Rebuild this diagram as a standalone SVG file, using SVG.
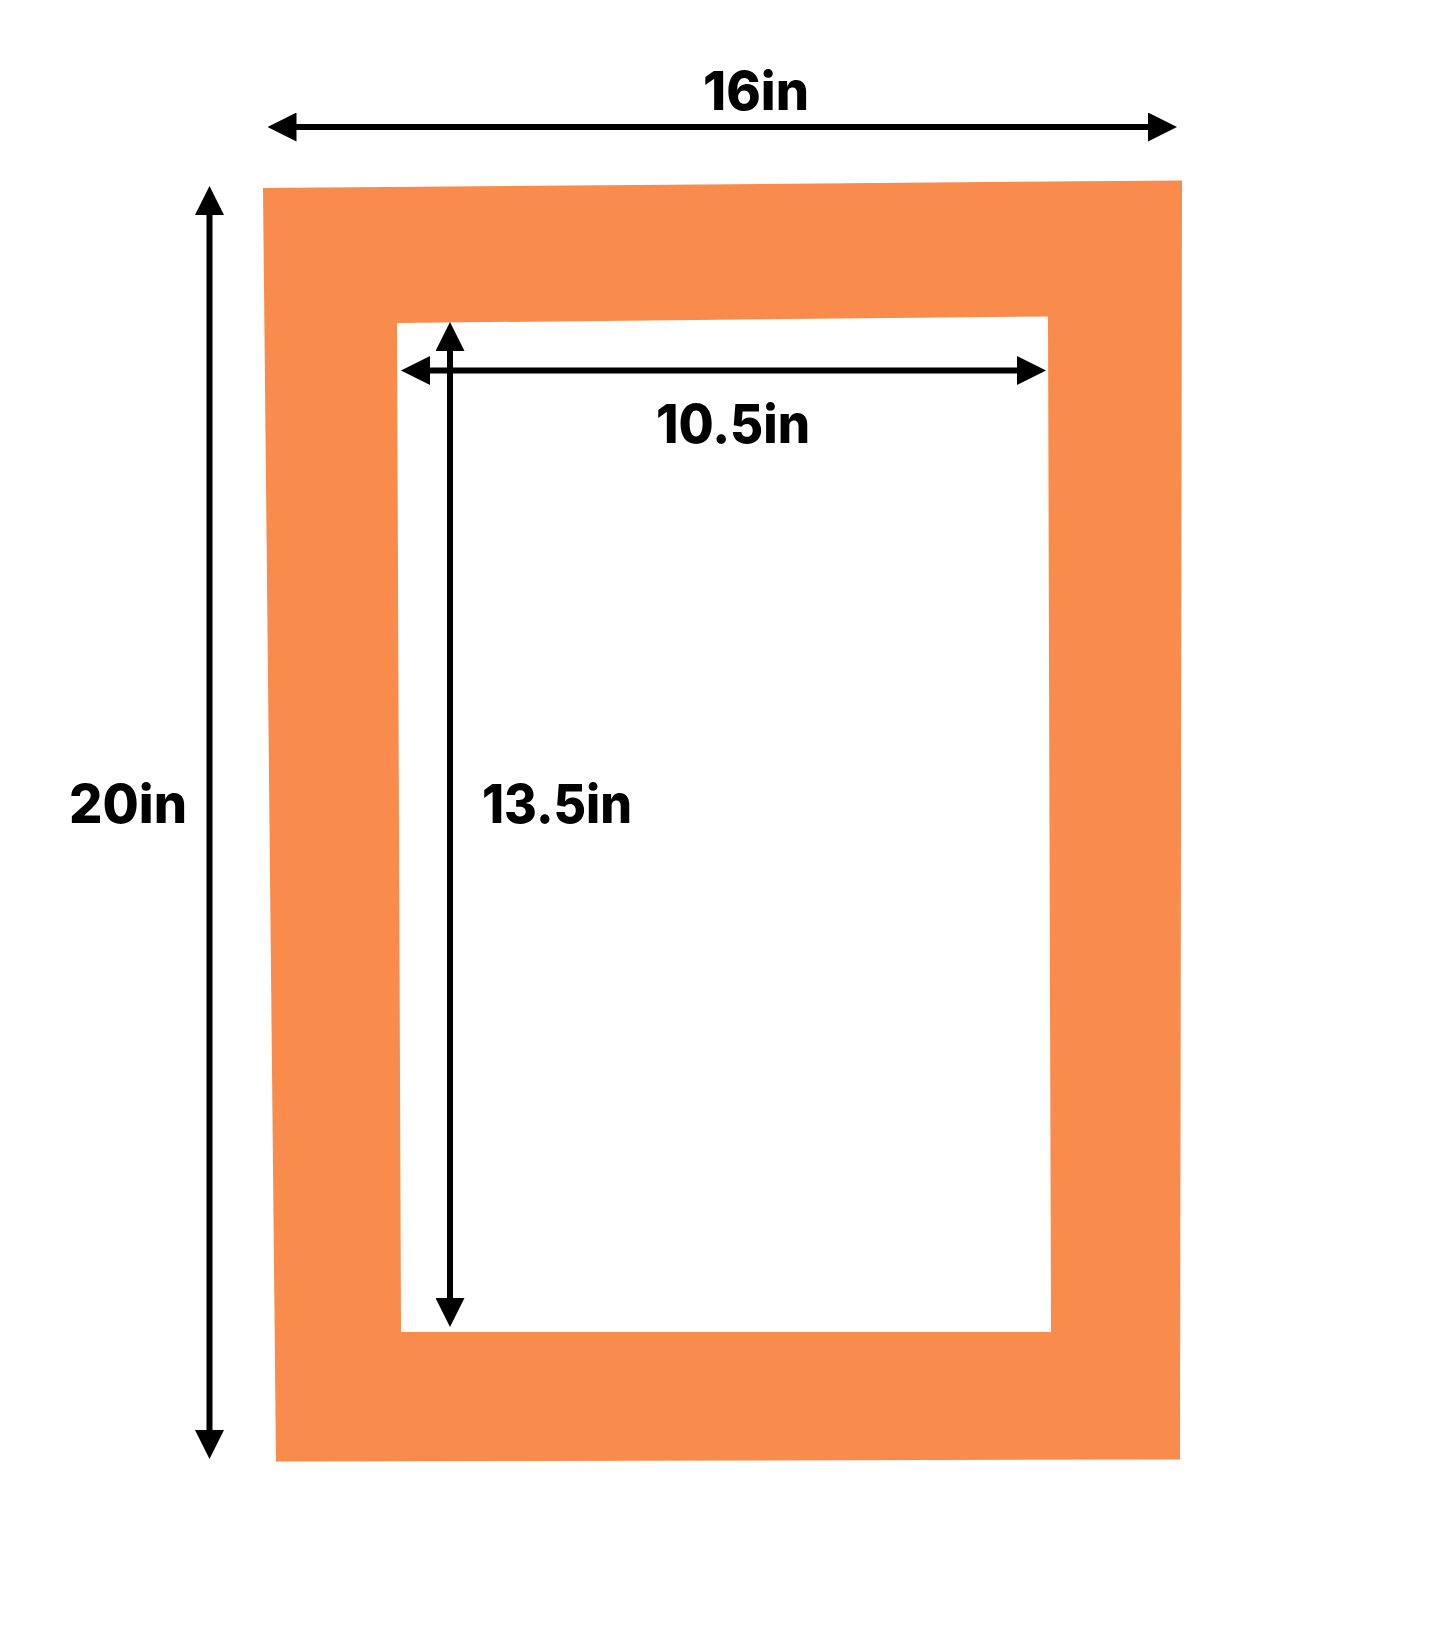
<svg xmlns="http://www.w3.org/2000/svg" width="1445" height="1645" viewBox="0 0 1445 1645">
  <style>
    .dim { stroke: #000; stroke-width: 6; fill: none; marker-start: url(#head); marker-end: url(#head); }
    .lbl { font-family: Inter, "Open Sans", "Liberation Sans", sans-serif; font-weight: 800; font-size: 54px; fill: #000; }
  </style>
  <defs>
    <marker id="head" viewBox="0 0 29 29" refX="19" refY="14.5" markerWidth="29" markerHeight="29" markerUnits="userSpaceOnUse" orient="auto-start-reverse">
      <path d="M0,0 L29,14.5 L0,29 z" fill="#000"/>
    </marker>
  </defs>
  <rect width="1445" height="1645" fill="#fff"/>
  <g id="mat">
    <path fill="#F98B4C" fill-rule="evenodd" d="M263,188 L1182,180.5 L1180,1459.5 L276,1461.5 Z M397,323 L1048,316.5 L1051,1332 L401,1332 Z"/>
  </g>
  <g id="connectors">
    <line class="dim" x1="277.5" y1="127" x2="1167" y2="127"/>
    <line class="dim" x1="209.5" y1="196" x2="209.5" y2="1449"/>
    <line class="dim" x1="411" y1="370.5" x2="1036" y2="370.5"/>
    <line class="dim" x1="450" y1="332" x2="450" y2="1317"/>
  </g>
  <g id="label-16in"><text class="lbl" x="703" y="110" textLength="106" lengthAdjust="spacingAndGlyphs">16in</text></g>
  <g id="label-10-5in"><text class="lbl" x="656" y="443" textLength="154" lengthAdjust="spacingAndGlyphs">10.5in</text></g>
  <g id="label-20in"><text class="lbl" x="69" y="823" textLength="118" lengthAdjust="spacingAndGlyphs">20in</text></g>
  <g id="label-13-5in"><text class="lbl" x="482" y="823" textLength="150" lengthAdjust="spacingAndGlyphs">13.5in</text></g>
</svg>
